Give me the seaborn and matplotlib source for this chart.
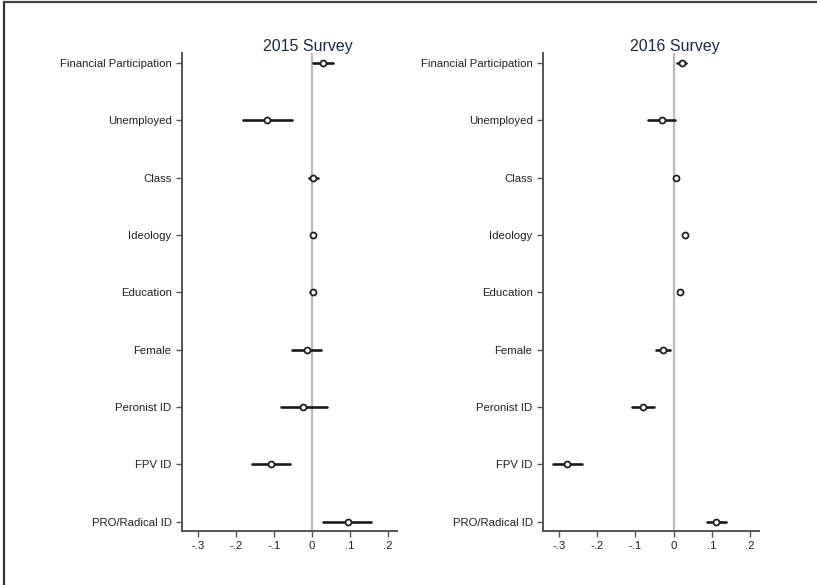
import matplotlib
matplotlib.use("Agg")
import matplotlib.pyplot as plt
import seaborn as sns
import pandas as pd
from matplotlib.lines import Line2D

# Coefficient estimates with 95% confidence bounds
variables = ["Financial Participation", "Unemployed", "Class", "Ideology",
             "Education", "Female", "Peronist ID", "FPV ID", "PRO/Radical ID"]

est_2015 = [0.028, -0.119, 0.004, 0.002, 0.002, -0.014, -0.023, -0.108, 0.094]
lo_2015 = [0.002, -0.182, -0.007, -0.003, -0.005, -0.052, -0.082, -0.157, 0.030]
hi_2015 = [0.056, -0.053, 0.017, 0.006, 0.008, 0.023, 0.039, -0.057, 0.155]

est_2016 = [0.022, -0.030, 0.007, 0.030, 0.016, -0.028, -0.081, -0.278, 0.111]
lo_2016 = [0.010, -0.067, 0.003, 0.026, 0.012, -0.045, -0.110, -0.316, 0.087]
hi_2016 = [0.033, 0.005, 0.011, 0.034, 0.020, -0.010, -0.050, -0.241, 0.137]

x_ticks = [-0.3, -0.2, -0.1, 0.0, 0.1, 0.2]
x_ticklabels = ["-.3", "-.2", "-.1", "0", ".1", ".2"]
titles = ["2015 Survey", "2016 Survey"]

sns.set_theme(style="white")
plt.rcParams["font.family"] = ["Liberation Sans", "DejaVu Sans"]

fig = plt.figure(figsize=(8.17, 5.85), dpi=100)
fig.patch.set_facecolor("white")

panels = [
    (est_2015, lo_2015, hi_2015, [182 / 817, 0.0923, (397 - 182) / 817, 0.9094 - 0.0923], 0.586),
    (est_2016, lo_2016, hi_2016, [543 / 817, 0.0923, (759 - 543) / 817, 0.9094 - 0.0923], 0.611),
]

for (est, lo, hi, rect, title_x), title in zip(panels, titles):
    ax = fig.add_axes(rect)
    long = pd.DataFrame({
        "variable": variables * 3,
        "value": lo + est + hi,
    })
    ax.axvline(0, color="#bcbcbc", lw=1.6, zorder=0)
    # Interval lines: full range of (low, estimate, high), centred on the median
    sns.pointplot(data=long, x="value", y="variable", order=variables,
                  estimator="median", errorbar=("pi", 100), orient="h",
                  linestyle="none", markers="", color="#1a1a1a",
                  err_kws={"linewidth": 1.9}, capsize=0, ax=ax)
    pts = pd.DataFrame({"variable": variables, "value": est})
    sns.pointplot(data=pts, x="value", y="variable", order=variables,
                  errorbar=None, orient="h", linestyle="none", markers="o",
                  color="#222222", markersize=4.3, markeredgewidth=1.3,
                  markerfacecolor="white", ax=ax, zorder=5)

    ax.set_xlim(-0.342, 0.224)
    ax.set_ylim(8.16, -0.17)
    ax.set_xticks(x_ticks)
    ax.set_xticklabels(x_ticklabels)
    ax.set_xlabel("")
    ax.set_ylabel("")
    for side in ["top", "right"]:
        ax.spines[side].set_visible(False)
    for side in ["left", "bottom"]:
        ax.spines[side].set_color("#555555")
        ax.spines[side].set_linewidth(1.4)
    ax.tick_params(axis="both", which="both", direction="out", length=4.5,
                   width=1.0, color="#555555", labelsize=8.2,
                   labelcolor="#222222", pad=3, left=True, bottom=True)
    ax.text(title_x, 0.998, title, transform=ax.transAxes, ha="center",
            va="bottom", fontsize=11.5, color="#1e2a44")
    ax.set_facecolor("white")

# Outer frame along top and left edges
fig.add_artist(Line2D([4 / 817, 1.0], [1 - 1.5 / 585, 1 - 1.5 / 585],
                      transform=fig.transFigure, color="#444444", lw=1.6))
fig.add_artist(Line2D([4 / 817, 4 / 817], [0.0, 1 - 1.5 / 585],
                      transform=fig.transFigure, color="#333333", lw=1.6))

fig.savefig("out.png", dpi=100)
